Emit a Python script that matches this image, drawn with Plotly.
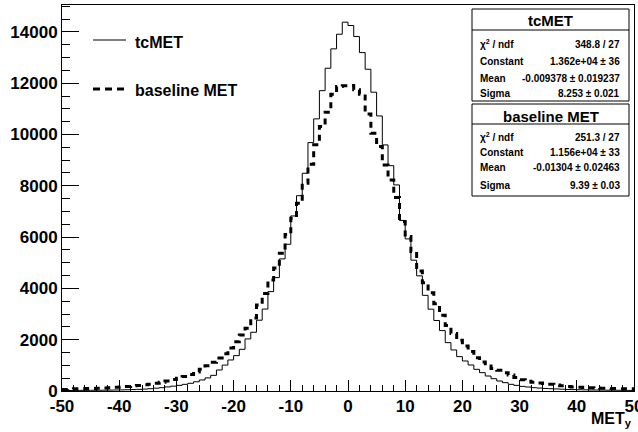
import plotly.graph_objects as go

# ---------------- data ----------------
bin_edges = list(range(-50, 51))  # 100 bins of width 1

tcmet = [
    20, 20, 22, 25, 25, 28, 30, 32, 35, 40,
    45, 50, 55, 65, 75, 90, 110, 130, 160, 190,
    220, 260, 300, 360, 430, 510, 610, 820, 1010, 1210,
    1380, 1625, 2030, 2290, 2760, 3195, 3875, 4420, 5150, 5720,
    6825, 7615, 8490, 9685, 10610, 11710, 12585, 13340, 13910, 14380,
    14250, 13820, 13195, 12545, 11650, 10725, 9595, 8785, 8035, 6650,
    5930, 5100, 4490, 3730, 3190, 2750, 2355, 1885, 1600, 1340,
    1170, 1015, 845, 715, 585, 480, 390, 325, 260, 220,
    180, 155, 130, 115, 100, 90, 80, 70, 60, 55,
    50, 45, 40, 38, 35, 32, 30, 28, 25, 22,
]

baseline = [
    60, 75, 85, 90, 95, 100, 110, 120, 130, 145,
    160, 180, 200, 215, 240, 265, 300, 345, 390, 445,
    500, 565, 640, 740, 850, 980, 1120, 1290, 1450, 1680,
    1920, 2180, 2450, 2850, 3350, 3800, 4330, 4800, 5370, 6100,
    6740, 7320, 8100, 8840, 9600, 10310, 10870, 11570, 11870, 11900,
    11910, 11750, 11570, 10800, 10050, 9530, 8815, 8230, 7540, 6605,
    6020, 5435, 4680, 4225, 3830, 3400, 2950, 2550, 2240, 1980,
    1750, 1540, 1300, 1130, 975, 880, 810, 715, 620, 530,
    440, 380, 340, 310, 290, 260, 230, 200, 175, 160,
    150, 140, 130, 115, 105, 100, 95, 92, 90, 85,
]

x_tick_vals = [-50, -40, -30, -20, -10, 0, 10, 20, 30, 40, 50]
y_tick_vals = [0, 2000, 4000, 6000, 8000, 10000, 12000, 14000]

stats_tc = [("χ<sup>2</sup> / ndf", "348.8 / 27"), ("Constant", "1.362e+04 ± 36"),
            ("Mean", "-0.009378 ± 0.019237"), ("Sigma", "8.253 ± 0.021")]
stats_base = [("χ<sup>2</sup> / ndf", "251.3 / 27"), ("Constant", "1.156e+04 ± 33"),
              ("Mean", "-0.01304 ± 0.02463"), ("Sigma", "9.39 ± 0.03")]

# ---------------- layout geometry (pixels) ----------------
W, H = 638, 432
L, R, T, B = 62, 4, 5, 41
PW, PH = W - L - R, H - T - B
FONT = "Liberation Sans, Arial, Helvetica, sans-serif"


def px(x):
    return (x - L) / PW


def py(y):
    return (H - B - y) / PH


fig = go.Figure()
fig.add_trace(go.Scatter(x=bin_edges, y=tcmet + [tcmet[-1]], mode="lines",
                         line=dict(shape="hv", color="black", width=1),
                         name="tcMET", showlegend=False))
fig.add_trace(go.Scatter(x=bin_edges, y=baseline + [baseline[-1]], mode="lines",
                         line=dict(shape="hv", color="black", width=3, dash="6px,5px"),
                         name="baseline MET", showlegend=False))

shapes = []
annotations = []

# legend
shapes.append(dict(type="line", xref="paper", yref="paper", x0=px(93), x1=px(126),
                   y0=py(40), y1=py(40), line=dict(color="black", width=1)))
shapes.append(dict(type="line", xref="paper", yref="paper", x0=px(93), x1=px(126),
                   y0=py(89), y1=py(89), line=dict(color="black", width=3, dash="7px,5px")))
annotations.append(dict(xref="paper", yref="paper", x=px(133), y=py(42), text="<b>tcMET</b>",
                        showarrow=False, xanchor="left", yanchor="middle",
                        font=dict(family=FONT, size=16, color="black")))
annotations.append(dict(xref="paper", yref="paper", x=px(133), y=py(90), text="<b>baseline MET</b>",
                        showarrow=False, xanchor="left", yanchor="middle",
                        font=dict(family=FONT, size=16, color="black")))


def stat_box(top, bottom, divider, title, title_y, rows, row_ys):
    shapes.append(dict(type="rect", xref="paper", yref="paper", x0=px(472), x1=px(629),
                       y0=py(bottom), y1=py(top), line=dict(color="black", width=1),
                       fillcolor="white", layer="above"))
    shapes.append(dict(type="line", xref="paper", yref="paper", x0=px(472), x1=px(629),
                       y0=py(divider), y1=py(divider), line=dict(color="black", width=1),
                       layer="above"))
    annotations.append(dict(xref="paper", yref="paper", x=px(550.5), y=py(title_y),
                            text="<b>%s</b>" % title, showarrow=False,
                            xanchor="center", yanchor="middle",
                            font=dict(family=FONT, size=15, color="black")))
    for (lab, val), yy in zip(rows, row_ys):
        annotations.append(dict(xref="paper", yref="paper", x=px(478), y=py(yy),
                                text="<b>%s</b>" % lab, showarrow=False,
                                xanchor="left", yanchor="middle",
                                font=dict(family=FONT, size=10, color="black")))
        annotations.append(dict(xref="paper", yref="paper", x=px(622), y=py(yy),
                                text="<b>%s</b>" % val, showarrow=False,
                                xanchor="right", yanchor="middle",
                                font=dict(family=FONT, size=10, color="black")))


stat_box(9, 101, 30, "tcMET", 20, stats_tc, [44, 62, 78, 93])
stat_box(104, 196, 124, "baseline MET", 116, stats_base, [137, 152, 168, 185])

# axis title
annotations.append(dict(xref="paper", yref="paper", x=px(634), y=py(419),
                        text="<b>MET<sub>y</sub></b>", showarrow=False,
                        xanchor="right", yanchor="middle",
                        font=dict(family=FONT, size=16, color="black")))

fig.update_layout(
    width=W, height=H,
    margin=dict(l=L, r=R, t=T, b=B, pad=0, autoexpand=False),
    paper_bgcolor="white", plot_bgcolor="white",
    shapes=shapes, annotations=annotations,
    showlegend=False,
    xaxis=dict(range=[-50, 50], tickvals=x_tick_vals, ticktext=[str(v) for v in x_tick_vals],
               automargin=False, ticklabeloverflow="allow",
               ticks="inside", ticklen=11, tickwidth=1, tickcolor="black",
               minor=dict(ticks="inside", ticklen=6, dtick=2, tick0=0, tickcolor="black", showgrid=False),
               showline=True, linecolor="black", linewidth=1, mirror=True,
               showgrid=False, zeroline=False,
               tickfont=dict(family=FONT, size=17, color="black", weight="bold")),
    yaxis=dict(range=[0, 15050], tickvals=y_tick_vals, ticktext=[str(v) for v in y_tick_vals],
               automargin=False, ticklabeloverflow="allow",
               ticks="inside", ticklen=17, tickwidth=1, tickcolor="black",
               minor=dict(ticks="inside", ticklen=8, dtick=500, tick0=0, tickcolor="black", showgrid=False),
               showline=True, linecolor="black", linewidth=1, mirror=True,
               showgrid=False, zeroline=False,
               tickfont=dict(family=FONT, size=17, color="black", weight="bold")),
)

fig.write_html("out.html", config={"displayModeBar": False},
               post_script="document.body.style.margin='0';document.body.style.overflow='hidden';")
